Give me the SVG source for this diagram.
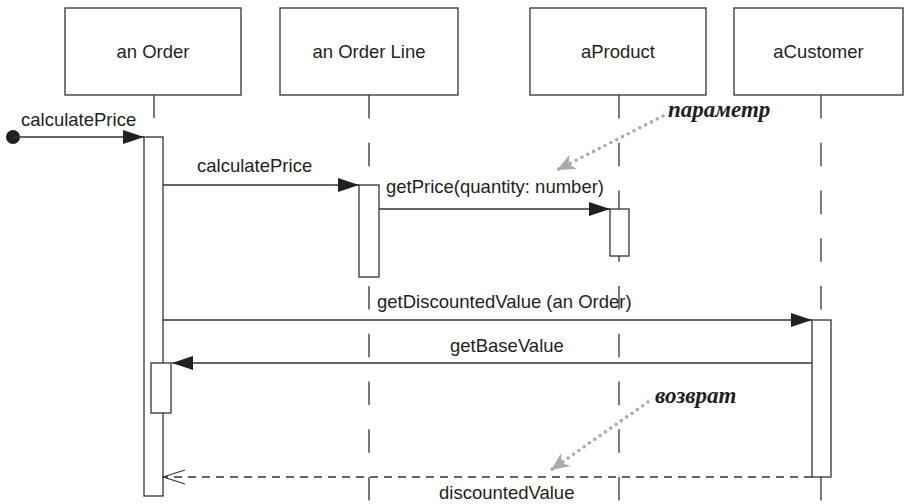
<svg xmlns="http://www.w3.org/2000/svg" width="905" height="504" viewBox="0 0 905 504">
<style>
.box{fill:#fff;stroke:#333;stroke-width:1.3}
.lbl{font-family:"Liberation Sans",Arial,sans-serif;font-size:18.5px;fill:#231f20}
.life{stroke:#333;stroke-width:1.3;stroke-dasharray:23.5 24.25;fill:none}
.msg{stroke:#333;stroke-width:1.3;fill:none}
.ret{stroke:#333;stroke-width:1.3;fill:none;stroke-dasharray:8 6}
.note{stroke:#aaa;stroke-width:3.6;stroke-linecap:round;stroke-dasharray:0 6.5;fill:none}
.ntxt{font-family:"Liberation Serif","DejaVu Serif",serif;font-style:italic;font-weight:bold;font-size:23px;fill:#231f20}
</style>
<defs>
<marker id="fill" markerUnits="userSpaceOnUse" markerWidth="21" markerHeight="14" viewBox="0 0 21 14" refX="21" refY="7" orient="auto"><path d="M0,0 L21,7 L0,14 z" fill="#231f20"/></marker>
<marker id="open" markerUnits="userSpaceOnUse" markerWidth="24" markerHeight="16" viewBox="-1 -1 24 16" refX="22" refY="7" orient="auto"><path d="M0,0 L22,7 L0,14" fill="none" stroke="#333" stroke-width="1.3"/></marker>
<marker id="gray" markerUnits="userSpaceOnUse" markerWidth="20" markerHeight="18" viewBox="0 -9 20 18" refX="18" refY="0" orient="auto"><path d="M0,-8 L18,0 L0,8 L5,0 z" fill="#aaa"/></marker>
</defs>

<g id="lifelines">
<line class="msg" x1="154" y1="95" x2="154" y2="118"/>
<line class="life" x1="369" y1="95" x2="369" y2="504"/>
<line class="life" x1="619" y1="95" x2="619" y2="504"/>
<line class="life" x1="821" y1="95" x2="821" y2="504"/>
</g>

<g id="node-order"><rect class="box" x="65" y="8" width="176" height="87"/><text class="lbl" x="153" y="58" text-anchor="middle">an Order</text></g>
<g id="node-orderline"><rect class="box" x="280" y="8" width="178" height="87"/><text class="lbl" x="369" y="58" text-anchor="middle">an Order Line</text></g>
<g id="node-product"><rect class="box" x="530" y="8" width="176" height="87"/><text class="lbl" x="618" y="58" text-anchor="middle">aProduct</text></g>
<g id="node-customer"><rect class="box" x="734" y="8" width="169" height="87"/><text class="lbl" x="818.5" y="58" text-anchor="middle">aCustomer</text></g>

<g id="activations">
<rect class="box" x="144" y="137" width="19" height="359"/>
<rect class="box" x="359" y="185" width="20" height="92"/>
<rect class="box" x="610" y="209" width="19" height="47"/>
<rect class="box" x="812" y="320" width="19" height="157"/>
<rect class="box" x="151" y="363" width="20" height="50"/>
</g>

<g id="connectors">
<circle cx="13" cy="137" r="7" fill="#231f20"/>
<path class="msg" d="M13,137 H144" marker-end="url(#fill)"/>
<path class="msg" d="M163,185 H359" marker-end="url(#fill)"/>
<path class="msg" d="M379,209 H610" marker-end="url(#fill)"/>
<path class="msg" d="M163,320 H812" marker-end="url(#fill)"/>
<path class="msg" d="M812,363 H172" marker-end="url(#fill)"/>
<path class="ret" d="M812,477 H163" marker-end="url(#open)"/>
<path class="note" d="M663,116 L557,170" marker-end="url(#gray)"/>
<path class="note" d="M648,402 L551,470" marker-end="url(#gray)"/>
</g>

<g id="labels">
<text class="lbl" x="21" y="126">calculatePrice</text>
<text class="lbl" x="197" y="172">calculatePrice</text>
<text class="lbl" x="386" y="193">getPrice(quantity: number)</text>
<text class="lbl" x="377" y="308">getDiscountedValue (an Order)</text>
<text class="lbl" x="450" y="352">getBaseValue</text>
<text class="lbl" x="439" y="499">discountedValue</text>
<text class="ntxt" x="668" y="117">параметр</text>
<text class="ntxt" x="655" y="403">возврат</text>
</g>
</svg>
